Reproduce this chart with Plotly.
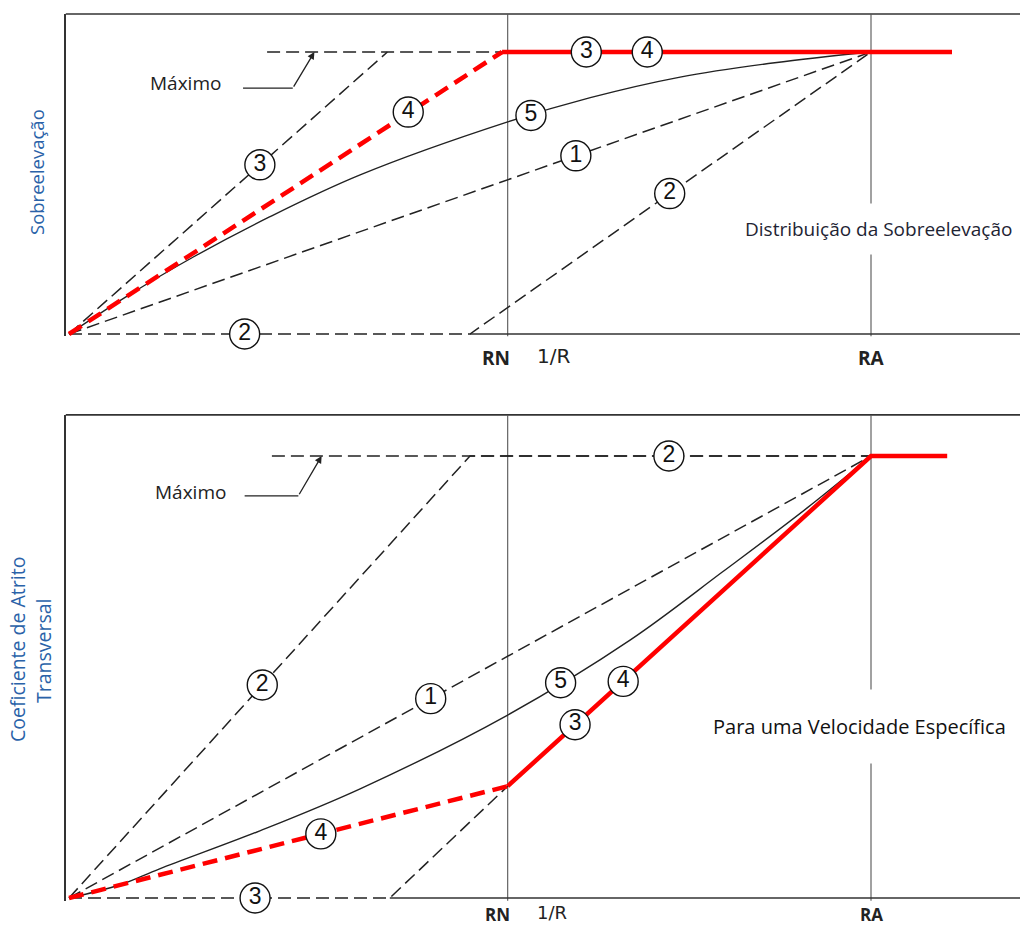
import plotly.graph_objects as go

# ---------------- data (x = 1/R normalised so that RA = 1; y = fraction of maximum) -------------
RN = 0.547
RA = 1.0

# Top panel: Sobreelevação
top_max_x = [0.247, RN]
top_max_y = [1.0, 1.0]
top1_x = [0.0, RA]
top1_y = [0.0, 1.0]
top2_x = [0.0, 0.5, RA]
top2_y = [0.0, 0.0, 1.0]
top3_x = [0.0, 0.397]
top3_y = [0.0, 1.0]
top4_dash_x = [0.0, 0.54]
top4_dash_y = [0.0, 1.0]
top4_solid_x = [0.54, RA, 1.101]
top4_solid_y = [1.0, 1.0, 1.0]
top5_x = [0.0, 0.07, 0.155, 0.25, 0.363, 0.547, 0.65, 0.762, 0.88, 1.0]
top5_y = [0.0, 0.13, 0.273, 0.415, 0.564, 0.752, 0.838, 0.911, 0.962, 1.0]
top_lab_text = ["3", "4", "5", "1", "2", "2", "3", "4"]
top_lab_x = [0.238, 0.423, 0.576, 0.632, 0.749, 0.219, 0.645, 0.721]
top_lab_y = [0.60, 0.787, 0.775, 0.632, 0.498, 0.0, 1.0, 1.0]

# Bottom panel: Coeficiente de Atrito Transversal
bot_max_x = [0.253, RA]
bot_max_y = [1.0, 1.0]
bot1_x = [0.0, RA]
bot1_y = [0.0, 1.0]
bot2_x = [0.0, 0.5, RA]
bot2_y = [0.0, 1.0, 1.0]
bot3_x = [0.0, 0.4, RN]
bot3_y = [0.0, 0.0, 0.253]
bot4_dash_x = [0.0, RN]
bot4_dash_y = [0.0, 0.253]
bot4_solid_x = [RN, RA, 1.095]
bot4_solid_y = [0.253, 1.0, 1.0]
bot5_x = [0.0, 0.064, 0.113, 0.238, 0.363, 0.547, 0.70, 0.815, 0.92, 1.0]
bot5_y = [0.0, 0.030, 0.066, 0.152, 0.247, 0.414, 0.584, 0.738, 0.882, 1.0]
bot_lab_text = ["2", "1", "5", "4", "3", "4", "2", "3"]
bot_lab_x = [0.241, 0.451, 0.613, 0.314, 0.631, 0.691, 0.748, 0.232]
bot_lab_y = [0.482, 0.451, 0.487, 0.145, 0.392, 0.49, 1.0, 0.0]

x_ticks = ["<b>RN</b>", "1/R", "<b>RA</b>"]

# ---------------- styling ----------------
W, H = 1020, 926
BLACK = "#222222"
RED = "#ff0000"
DASH_K = dict(color=BLACK, width=1.5, dash="13px,6px")
DASH_R = dict(color=RED, width=4.5, dash="15px,8px")
SOLID_R = dict(color=RED, width=4.5)
SOLID_K = dict(color=BLACK, width=1.4)
FONT = "Open Sans"

fig = go.Figure()


def add_panel(xa, ya, lines, labels):
    for xs, ys, ln, shape in lines:
        fig.add_trace(go.Scatter(x=xs, y=ys, mode="lines", line=dict(**ln, shape=shape),
                                 xaxis=xa, yaxis=ya, showlegend=False, hoverinfo="skip"))
    lx, ly, lt = labels
    fig.add_trace(go.Scatter(x=lx, y=ly, text=lt, mode="markers+text",
                             textposition="middle center",
                             textfont=dict(family="Liberation Sans", size=23, color="#111"),
                             marker=dict(size=30, color="white", line=dict(color="#111", width=1.4)),
                             xaxis=xa, yaxis=ya, showlegend=False, hoverinfo="skip",
                             cliponaxis=False))


add_panel("x", "y", [
    (top_max_x, top_max_y, DASH_K, "linear"),
    (top1_x, top1_y, DASH_K, "linear"),
    (top2_x, top2_y, DASH_K, "linear"),
    (top3_x, top3_y, DASH_K, "linear"),
    (top5_x, top5_y, SOLID_K, "spline"),
    (top4_dash_x, top4_dash_y, DASH_R, "linear"),
    (top4_solid_x, top4_solid_y, SOLID_R, "linear"),
], (top_lab_x, top_lab_y, top_lab_text))

add_panel("x2", "y2", [
    (bot_max_x, bot_max_y, DASH_K, "linear"),
    (bot1_x, bot1_y, DASH_K, "linear"),
    (bot2_x, bot2_y, DASH_K, "linear"),
    (bot3_x, bot3_y, DASH_K, "linear"),
    (bot5_x, bot5_y, SOLID_K, "spline"),
    (bot4_dash_x, bot4_dash_y, DASH_R, "linear"),
    (bot4_solid_x, bot4_solid_y, SOLID_R, "linear"),
], (bot_lab_x, bot_lab_y, bot_lab_text))

# ---------------- layout geometry ----------------
X0_PX, X_UNIT = 69, 802
x_lo = -0.004
x_left_px = X0_PX + x_lo * X_UNIT
x_hi = (W - X0_PX) / X_UNIT
xdom = [x_left_px / W, 1.0]

top_rng = [-0.008, 1.135]
bot_rng = [-0.006, 1.093]
top_dom = [1 - (334 - top_rng[0] * 282) / H, 1 - (334 - top_rng[1] * 282) / H]
bot_dom = [1 - (898 - bot_rng[0] * 442) / H, 1 - (898 - bot_rng[1] * 442) / H]

ax_common = dict(showgrid=False, zeroline=False, showticklabels=False, ticks="")
fig.update_layout(
    width=W, height=H, margin=dict(l=0, r=0, t=0, b=0),
    paper_bgcolor="white", plot_bgcolor="white", showlegend=False,
    xaxis=dict(domain=xdom, range=[x_lo, x_hi], anchor="y", showline=False, **ax_common),
    yaxis=dict(domain=top_dom, range=top_rng, anchor="x", showline=True,
               linecolor="#333", linewidth=1.6, **ax_common),
    xaxis2=dict(domain=xdom, range=[x_lo, x_hi], anchor="y2", showline=False, **ax_common),
    yaxis2=dict(domain=bot_dom, range=bot_rng, anchor="x2", showline=True,
                linecolor="#333", linewidth=1.6, **ax_common),
)

shapes = []
for xr, yr, kink in (("x", "y", top2_x[1]), ("x2", "y2", bot3_x[1])):
    dom = yr + " domain"
    shapes.append(dict(type="line", xref=xr + " domain", yref=dom, x0=0, x1=1, y0=1, y1=1,
                       line=dict(color="#333", width=1.6), layer="below"))
    shapes.append(dict(type="line", xref=xr, yref=yr, x0=kink, x1=x_hi, y0=0, y1=0,
                       line=dict(color="#333", width=1.6), layer="below"))
    for v in (RN, RA):
        shapes.append(dict(type="line", xref=xr, yref=dom, x0=v, x1=v, y0=0, y1=1,
                           line=dict(color="#555", width=1.1), layer="below"))
fig.update_layout(shapes=shapes)

ann = []
for xr, yr, ysh, fs in (("x", "y", -7, 19), ("x2", "y2", 0, 17)):
    dom = yr + " domain"
    ann.append(dict(x=RN, y=0, xref=xr, yref=dom, text=x_ticks[0], showarrow=False,
                    xanchor="right", yanchor="top", xshift=4, yshift=ysh,
                    font=dict(family=FONT, size=fs, color="#222")))
    ann.append(dict(x=RN, y=0, xref=xr, yref=dom, text=x_ticks[1], showarrow=False,
                    xanchor="left", yanchor="top", xshift=27, yshift=ysh + 1,
                    font=dict(family="DejaVu Sans", size=fs + 1, color="#222")))
    ann.append(dict(x=RA, y=0, xref=xr, yref=dom, text=x_ticks[2], showarrow=False,
                    xanchor="center", yanchor="top", yshift=ysh,
                    font=dict(family=FONT, size=fs, color="#222")))

for xr, yr, tx, ty, hx0, hx1, hy, ex in (
        ("x", "y", 0.145, 0.89, 0.217, 0.279, 0.872, 0.306),
        ("x2", "y2", 0.151, 0.919, 0.219, 0.286, 0.91, 0.315)):
    ann.append(dict(x=tx, y=ty, xref=xr, yref=yr, text="Máximo", showarrow=False,
                    xanchor="center", yanchor="middle",
                    font=dict(family=FONT, size=19, color="#222")))
    ann.append(dict(x=ex, y=1.0, ax=hx1, ay=hy, xref=xr, yref=yr, axref=xr, ayref=yr,
                    text="", showarrow=True, arrowhead=2, arrowsize=1.1, arrowwidth=1.3,
                    arrowcolor="#222", standoff=0))
    fig.add_trace(go.Scatter(x=[hx0, hx1], y=[hy, hy], mode="lines",
                             line=dict(color="#222", width=1.3), xaxis=xr, yaxis=yr,
                             showlegend=False, hoverinfo="skip"))

ann.append(dict(x=1.009, y=0.372, xref="x", yref="y", text="Distribuição da Sobreelevação",
                showarrow=False, bgcolor="white", borderpad=12, xanchor="center", yanchor="middle",
                font=dict(family=FONT, size=19, color="#1e2433")))
ann.append(dict(x=0.986, y=0.387, xref="x2", yref="y2", text="Para uma Velocidade Específica",
                showarrow=False, bgcolor="white", borderpad=23, xanchor="center", yanchor="middle",
                font=dict(family=FONT, size=20, color="#111")))

ann.append(dict(x=37 / W, y=1 - 172 / H, xref="paper", yref="paper", text="Sobreelevação",
                textangle=-90, showarrow=False, xanchor="center", yanchor="middle",
                font=dict(family=FONT, size=18.5, color="#2a62a8")))
ann.append(dict(x=17 / W, y=1 - 650 / H, xref="paper", yref="paper",
                text="Coeficiente de Atrito", textangle=-90, showarrow=False,
                xanchor="center", yanchor="middle",
                font=dict(family=FONT, size=19.5, color="#2a62a8")))
ann.append(dict(x=43 / W, y=1 - 651 / H, xref="paper", yref="paper",
                text="Transversal", textangle=-90, showarrow=False,
                xanchor="center", yanchor="middle",
                font=dict(family=FONT, size=19.5, color="#2a62a8")))

fig.update_layout(annotations=ann)
fig.write_html("out.html", config={"displayModeBar": False},
               post_script="document.body.style.margin='0';")
